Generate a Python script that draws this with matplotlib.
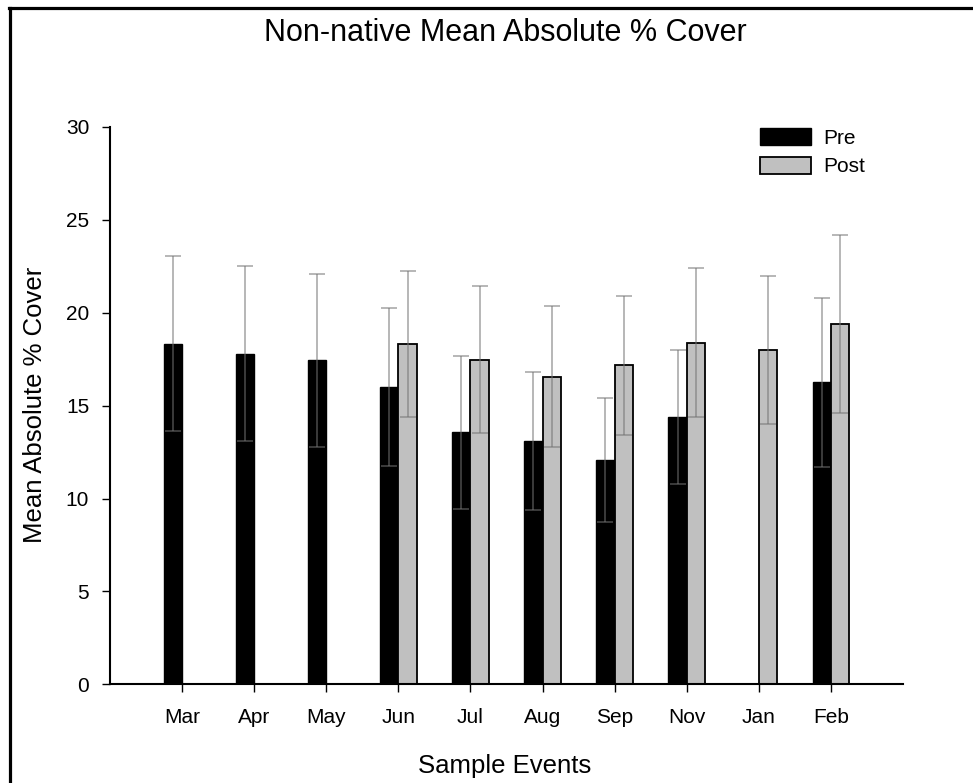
import numpy as np
import matplotlib
matplotlib.use("Agg")
import matplotlib.pyplot as plt
from matplotlib.lines import Line2D

plt.rcParams['font.family'] = ['Liberation Sans', 'DejaVu Sans']

# Sample events and mean absolute % cover (+/- SE) before and after treatment
events = ['Mar', 'Apr', 'May', 'Jun', 'Jul', 'Aug', 'Sep', 'Nov', 'Jan', 'Feb']
pre_mean = [18.33, 17.79, 17.44, 16.00, 13.56, 13.10, 12.06, 14.37, np.nan, 16.25]
pre_se = [4.72, 4.72, 4.65, 4.25, 4.10, 3.70, 3.35, 3.60, np.nan, 4.55]
post_mean = [np.nan, np.nan, np.nan, 18.32, 17.47, 16.56, 17.17, 18.39, 17.99, 19.39]
post_se = [np.nan, np.nan, np.nan, 3.95, 3.95, 3.80, 3.75, 4.00, 4.00, 4.80]
yticks = [0, 5, 10, 15, 20, 25, 30]

W, H = 973, 783
fig = plt.figure(figsize=(W / 100, H / 100), dpi=100)
ax = fig.add_axes([110 / W, 1 - 684.3 / H, (903 - 110) / W, (684.3 - 126.9) / H])

x = np.arange(len(events))
pre = np.array(pre_mean, dtype=float)
pre_e = np.array(pre_se, dtype=float)
post = np.array(post_mean, dtype=float)
post_e = np.array(post_se, dtype=float)
bw = 0.255

mp = ~np.isnan(pre)
mq = ~np.isnan(post)

# pre bars sit left of the tick, post bars to the right
ax.bar(x[mp] - bw, pre[mp], width=bw, align='edge', color='black', edgecolor='black',
       linewidth=1.0, label='Pre', zorder=2)
ax.bar(x[mq], post[mq], width=bw, align='edge', color='#c0c0c0', edgecolor='black',
       linewidth=1.3, label='Post', zorder=2)

err_kw = dict(fmt='none', ecolor=(0.45, 0.45, 0.45, 0.6), elinewidth=1.2,
              capsize=5.8, capthick=1.2, zorder=3)
ax.errorbar(x[mp] - bw / 2, pre[mp], yerr=pre_e[mp], **err_kw)
ax.errorbar(x[mq] + bw / 2, post[mq], yerr=post_e[mq], **err_kw)

ax.set_xlim(-1, 10)
ax.set_ylim(0, 30)
ax.set_xticks(x)
ax.set_xticklabels(events)
ax.set_yticks(yticks)
ax.tick_params(axis='both', direction='out', length=6, width=1.0, labelsize=15, color='black')
ax.tick_params(axis='x', pad=11)
ax.tick_params(axis='y', pad=9)
for s in ['top', 'right']:
    ax.spines[s].set_visible(False)
for s in ['left', 'bottom']:
    ax.spines[s].set_linewidth(1.5)

fig.text(505 / W, 1 - 33 / H, 'Non-native Mean Absolute % Cover', ha='center', va='center', fontsize=22)
fig.text(505 / W, 1 - 766 / H, 'Sample Events', ha='center', va='center', fontsize=18.5)
fig.text(35 / W, 1 - 405 / H, 'Mean Absolute % Cover', ha='center', va='center',
         rotation=90, fontsize=18.5)

leg = ax.legend(loc='upper left', bbox_to_anchor=(760 / W, 1 - 128 / H),
                bbox_transform=fig.transFigure, frameon=False, fontsize=15,
                handlelength=2.45, handleheight=0.85, handletextpad=0.58,
                borderpad=0, borderaxespad=0, labelspacing=0.45)

# outer frame (top and left edges)
fig.add_artist(Line2D([8.5 / W, 1], [1 - 7.5 / H, 1 - 7.5 / H], transform=fig.transFigure,
                      color='black', linewidth=2.3, solid_capstyle='projecting'))
fig.add_artist(Line2D([9.7 / W, 9.7 / W], [0, 1 - 7.5 / H], transform=fig.transFigure,
                      color='black', linewidth=2.3, solid_capstyle='projecting'))

fig.savefig('out.png', dpi=100)
